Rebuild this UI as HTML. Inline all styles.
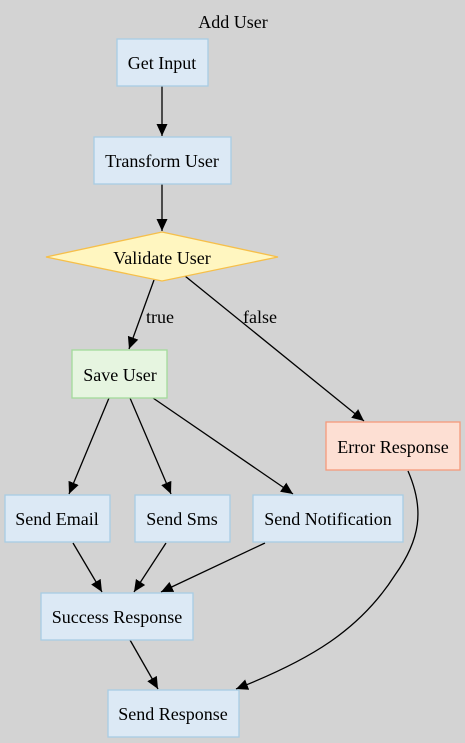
<!DOCTYPE html>
<html><head><meta charset="utf-8"><style>
html,body{margin:0;padding:0;background:#d3d3d3;}
svg{display:block;}
text{font-family:"Liberation Serif",serif;font-size:18px;fill:#000;}
</style></head><body>
<svg width="465" height="743" viewBox="0 0 465 743" xmlns="http://www.w3.org/2000/svg">
<defs>
<marker id="a" markerWidth="13" markerHeight="12" refX="12" refY="6" orient="auto" markerUnits="userSpaceOnUse">
<path d="M0,0.5 L12,6 L0,11.5 Z" fill="#000"/></marker>
</defs>
<rect width="465" height="743" fill="#d3d3d3"/>
<text x="233" y="28" text-anchor="middle">Add User</text>
<g stroke="#000" stroke-width="1.3" fill="none" marker-end="url(#a)">
<line x1="162" y1="86" x2="162" y2="136"/>
<line x1="162" y1="184" x2="162" y2="231"/>
<line x1="154" y1="280" x2="129" y2="349"/>
<line x1="185" y1="276" x2="364" y2="421"/>
<line x1="109" y1="398" x2="69" y2="494"/>
<line x1="130" y1="398" x2="171" y2="494"/>
<line x1="153" y1="398" x2="293" y2="494"/>
<path d="M408,471 C425,510 420,540 395,575 C360,630 310,660 236,689"/>
<line x1="73" y1="543" x2="102" y2="592"/>
<line x1="166" y1="543" x2="134" y2="592"/>
<line x1="265" y1="543" x2="161" y2="592"/>
<line x1="130" y1="640" x2="158" y2="689"/>
</g>
<text x="160" y="323" text-anchor="middle">true</text>
<text x="260" y="323" text-anchor="middle">false</text>
<g stroke="#a8cde3" stroke-width="1.3" fill="#dce9f5">
<rect x="117" y="39" width="91" height="47"/>
<rect x="94" y="137" width="137" height="47"/>
<rect x="5" y="495" width="105" height="47"/>
<rect x="135" y="495" width="95" height="47"/>
<rect x="253" y="495" width="150" height="47"/>
<rect x="41" y="593" width="152" height="47"/>
<rect x="108" y="690" width="131" height="47"/>
</g>
<polygon points="162,232 278,257 162,281 46,257" fill="#fff6c0" stroke="#f6bf4a" stroke-width="1.3"/>
<rect x="72" y="350" width="95" height="48" fill="#e6f5e0" stroke="#a3da9b" stroke-width="1.3"/>
<rect x="326" y="422" width="134" height="48" fill="#fddfd3" stroke="#f59a7c" stroke-width="1.3"/>
<g text-anchor="middle">
<text x="162" y="69">Get Input</text>
<text x="162" y="167">Transform User</text>
<text x="162" y="264">Validate User</text>
<text x="120" y="381">Save User</text>
<text x="393" y="453">Error Response</text>
<text x="57" y="525">Send Email</text>
<text x="182" y="525">Send Sms</text>
<text x="328" y="525">Send Notification</text>
<text x="117" y="623">Success Response</text>
<text x="173" y="720">Send Response</text>
</g>
</svg>
</body></html>
